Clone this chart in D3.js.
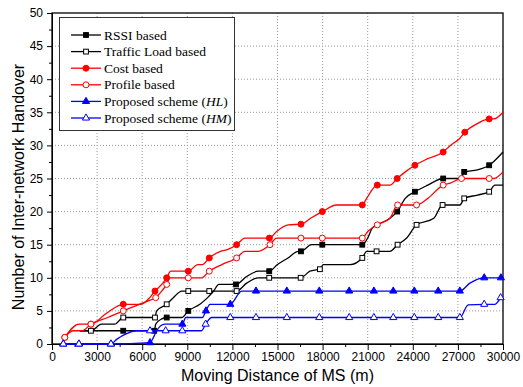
<!DOCTYPE html>
<html>
<head>
<meta charset="utf-8">
<script src="https://cdn.jsdelivr.net/npm/d3@7"></script>
<style>
  body { margin: 0; background: #fff; }
  svg { display: block; }
</style>
</head>
<body>
<svg id="chart" width="523" height="387"></svg>
<script>
// each point: [distance (m), handovers, marker?]
var rssi = [[1850,2,0],[4740,2,1],[6800,2,1],[6900,3,0],[7300,3.8,0],[7630,4,1],[8630,4,0],[9065,5,1],[9840,6,0],[10350,7,0],[10750,8,0],[11100,9,0],[12240,9,1],[12950,10.2,0],[13720,11,0],[14450,11,1],[15000,12,0],[15700,13,0],[16380,14,0],[16560,14,1],[17270,15,0],[17980,15,1],[20640,15,1],[21000,16,0],[21300,17.5,0],[21640,18,0],[22480,19,0],[22960,20,1],[23500,22,0],[24140,23,1],[25000,24,0],[26020,25,1],[27200,25,0],[27420,26,1],[28300,26.3,0],[29080,27,1],[30000,29,0]];
var traffic = [[1850,2,0],[2590,2,1],[3300,3,0],[4170,3,0],[4740,4,1],[6850,4,1],[6960,5,0],[7630,6,1],[8070,7,0],[8630,8,0],[9065,8,1],[10460,8,1],[12280,8,1],[12950,9.2,0],[13720,10,0],[14450,10,1],[16540,10,1],[17160,11,0],[17820,11.3,1],[18040,12,0],[19820,12,0],[20640,13,1],[20930,14,0],[21590,14,1],[22480,14,0],[22990,15,1],[23590,16,0],[24250,18,1],[25400,19,0],[25980,21,1],[27140,21,0],[27420,22,1],[28300,22.5,0],[29080,23,1],[29460,24,0],[30000,24,0]];
var cost = [[850,1,1],[1800,3,0],[2450,3,0],[2590,3,1],[3600,4.6,0],[4740,6,1],[5900,6,0],[6500,7,0],[6850,8,1],[7300,9,0],[7630,10,1],[7900,11,0],[9065,11,1],[9700,12,0],[10000,12,0],[10460,13,1],[11200,14,0],[11700,14.3,0],[12280,15,1],[12830,16,0],[14460,16,1],[14940,17,0],[15720,18,0],[16560,18.1,1],[17200,19,0],[17980,20,1],[18930,21,0],[20640,21,1],[20930,22,0],[21640,24,1],[22480,24,0],[22960,25,1],[23500,26,0],[24140,27,1],[25000,28,0],[26020,29,1],[26500,30,0],[27100,31,0],[27460,32,1],[28300,33.3,0],[29080,34,1],[29400,34,0],[30000,35,0]];
var profile = [[850,1,1],[1400,2,0],[2000,2,0],[2590,3,1],[3700,4,0],[4740,5,1],[5800,6,0],[6500,6.6,0],[6900,7,1],[7300,8,0],[7630,9,1],[7850,10,0],[9065,10,1],[9950,10,0],[10460,11,1],[11300,12,0],[12280,13,1],[12830,14,0],[13720,14,0],[14500,15,1],[14940,16,0],[16560,16,1],[17980,16,1],[20640,16,1],[21000,17,0],[21640,18,1],[22480,19,0],[22990,21,1],[24250,21,1],[25000,22,0],[26020,24,1],[26500,24.3,0],[27240,25,1],[29080,25,1],[29400,25,0],[30000,26,0]];
var hl = [[750,0,1],[1790,0,1],[3920,0,1],[6520,0.2,1],[6750,1,0],[6960,2,0],[7500,3,0],[8670,3,1],[8900,4,0],[10000,4,0],[10240,5,1],[10510,6,0],[11860,6,1],[12610,8,0],[13570,8,1],[15620,8,1],[17780,8,1],[19770,8,1],[21410,8,1],[22700,8,1],[24100,8,1],[25690,8,1],[27130,8,1],[27800,9.2,0],[28750,10,1],[29860,10,1]];
var hm = [[750,0,1],[1790,0,1],[3920,0,1],[4300,0.7,0],[5000,1.6,0],[5600,2,0],[6520,2,1],[7560,2,1],[8670,2,1],[9950,2,0],[10220,3,1],[10620,4,0],[11860,4,1],[13570,4,1],[15620,4,1],[17780,4,1],[19770,4,1],[21410,4,1],[22700,4,1],[24100,4,1],[25690,4,1],[27130,4,1],[27690,5.9,0],[28750,6,1],[29460,6,0],[29840,7,1]];

var seriesNames = ["RSSI based", "Traffic Load based", "Cost based", "Profile based", "Proposed scheme (", "Proposed scheme ("];
var seriesItalic = ["", "", "", "", "HL", "HM"];
var xTicks = [0,3000,6000,9000,12000,15000,18000,21000,24000,27000,30000];
var yTicks = [0,5,10,15,20,25,30,35,40,45,50];

var series = [
  {data: rssi, color: "#000", shape: "square", fill: true},
  {data: traffic, color: "#000", shape: "square", fill: false},
  {data: cost, color: "#ff0000", shape: "circle", fill: true},
  {data: profile, color: "#ff0000", shape: "circle", fill: false},
  {data: hl, color: "#0000ff", shape: "triangle", fill: true},
  {data: hm, color: "#0000ff", shape: "triangle", fill: false}
];

var svg = d3.select("#chart");
var plotLeft = 52, plotTop = 13, plotW = 451, plotH = 331;
var x = d3.scaleLinear().domain([0, 30000]).range([plotLeft, plotLeft + plotW]);
var y = d3.scaleLinear().domain([0, 50]).range([plotTop + plotH, plotTop]);

// dotted grid
var grid = svg.append("g").attr("stroke", "#999").attr("stroke-dasharray", "1,2").attr("stroke-width", 1);
xTicks.slice(1, -1).forEach(function(t){
  grid.append("line").attr("x1", x(t)).attr("x2", x(t)).attr("y1", plotTop).attr("y2", plotTop + plotH);
});
yTicks.slice(1, -1).forEach(function(t){
  grid.append("line").attr("x1", plotLeft).attr("x2", plotLeft + plotW).attr("y1", y(t)).attr("y2", y(t));
});

// axes
var minorX = d3.range(1500, 30000, 3000);
var minorY = d3.range(2.5, 50, 5);
svg.append("g").attr("transform", "translate(0," + (plotTop + plotH) + ")")
  .call(d3.axisBottom(x).tickValues(xTicks).tickSize(6).tickPadding(2).tickFormat(d3.format("d")));
svg.append("g").attr("transform", "translate(0," + (plotTop + plotH) + ")")
  .call(d3.axisBottom(x).tickValues(minorX).tickSize(3).tickFormat(""))
  .select(".domain").remove();
svg.append("g").attr("transform", "translate(" + plotLeft + ",0)")
  .call(d3.axisLeft(y).tickValues(yTicks).tickSize(5).tickPadding(4));
svg.append("g").attr("transform", "translate(" + plotLeft + ",0)")
  .call(d3.axisLeft(y).tickValues(minorY).tickSize(3).tickFormat(""))
  .select(".domain").remove();
svg.selectAll(".tick text").attr("font-family", "Liberation Sans, Arial, sans-serif").attr("font-size", 12).attr("fill", "#000");
svg.selectAll(".tick line").attr("stroke", "#000");

svg.append("rect").attr("x", plotLeft).attr("y", plotTop).attr("width", plotW).attr("height", plotH)
  .attr("fill", "none").attr("stroke", "#000").attr("stroke-width", 1.3);

// axis titles
svg.append("text").attr("x", plotLeft + plotW / 2).attr("y", 381).attr("text-anchor", "middle")
  .attr("font-family", "Liberation Sans, Arial, sans-serif").attr("font-size", 16)
  .text("Moving Distance of MS (m)");
svg.append("text").attr("transform", "translate(24,187) rotate(-90)").attr("text-anchor", "middle")
  .attr("font-family", "Liberation Sans, Arial, sans-serif").attr("font-size", 16)
  .text("Number of Inter-network Handover");

function drawMarker(g, s, cx, cy) {
  var fill = s.fill ? s.color : "#fff";
  if (s.shape == "square") {
    g.append("rect").attr("x", cx - 2.4).attr("y", cy - 2.4).attr("width", 4.8).attr("height", 4.8)
      .attr("fill", fill).attr("stroke", s.color).attr("stroke-width", 1);
  } else if (s.shape == "circle") {
    g.append("circle").attr("cx", cx).attr("cy", cy).attr("r", 3)
      .attr("fill", fill).attr("stroke", s.color).attr("stroke-width", 1);
  } else {
    g.append("path").attr("d", d3.symbol(d3.symbolTriangle, 22)())
      .attr("transform", "translate(" + cx + "," + cy + ")")
      .attr("fill", fill).attr("stroke", s.color).attr("stroke-width", 1);
  }
}

var line = d3.line().x(function(d){ return x(d[0]); }).y(function(d){ return y(d[1]); }).curve(d3.curveMonotoneX);
var plot = svg.append("g");
series.forEach(function(s){
  plot.append("path").attr("d", line(s.data)).attr("fill", "none")
    .attr("stroke", s.color).attr("stroke-width", 1.3);
  s.data.forEach(function(d){
    if (d[2]) drawMarker(plot, s, x(d[0]), y(d[1]));
  });
});

// legend
var lg = svg.append("g");
lg.append("rect").attr("x", 59.5).attr("y", 17.5).attr("width", 175).attr("height", 113)
  .attr("fill", "#fff").attr("stroke", "#333").attr("stroke-width", 1);
series.forEach(function(s, i){
  var ly = 35 + i * 16.6;
  lg.append("line").attr("x1", 71).attr("x2", 101).attr("y1", ly).attr("y2", ly)
    .attr("stroke", s.color).attr("stroke-width", 1.3);
  drawMarker(lg, s, 86, ly);
  var t = lg.append("text").attr("x", 104).attr("y", ly + 4.5)
    .attr("font-family", "Liberation Serif, Times New Roman, serif").attr("font-size", 13.5)
    .text(seriesNames[i]);
  if (seriesItalic[i]) {
    t.append("tspan").attr("font-style", "italic").text(seriesItalic[i]);
    t.append("tspan").text(")");
  }
});
</script>
</body>
</html>
